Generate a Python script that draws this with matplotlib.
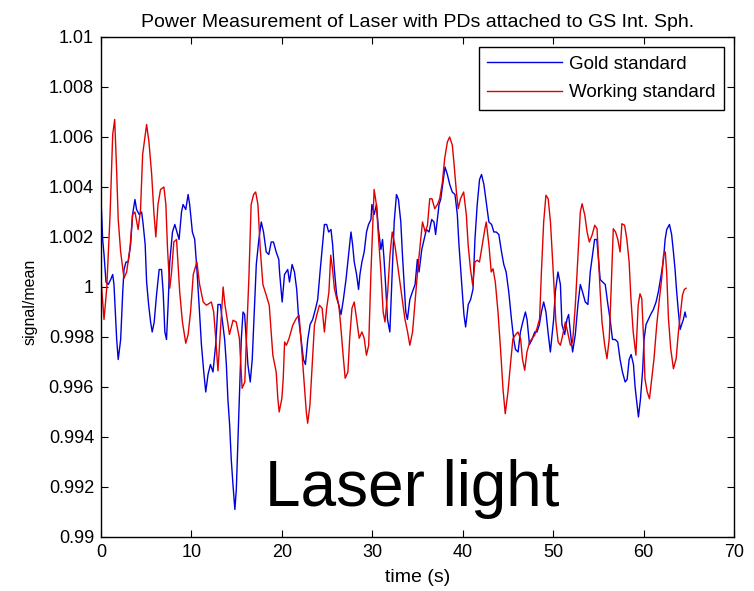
import matplotlib
matplotlib.use('Agg')
import matplotlib.pyplot as plt

plt.rcParams['font.family'] = ['Liberation Sans', 'DejaVu Sans']

# values
gold_t = [0.0, 0.18, 0.33, 0.55, 0.8, 1.07, 1.29, 1.43, 1.58, 1.73, 1.9, 2.17, 2.4, 2.54, 2.76, 3.0,
          3.27, 3.49, 3.75, 3.93, 4.22, 4.49, 4.66, 4.88, 5.04, 5.26, 5.48, 5.66, 5.88, 6.14, 6.43,
          6.69, 6.87, 7.06, 7.24, 7.42, 7.6, 7.9, 8.16, 8.4, 8.63, 8.9, 9.07, 9.37, 9.63, 9.8, 10.1,
          10.36, 10.6, 10.84, 11.1, 11.36, 11.58, 11.83, 12.1, 12.38, 12.68, 12.93, 13.2, 13.4,
          13.67, 13.86, 14.03, 14.22, 14.4, 14.59, 14.8, 14.96, 15.14, 15.33, 15.51, 15.7, 15.88,
          16.06, 16.24, 16.5, 16.72, 16.98, 17.17, 17.45, 17.72, 17.97, 18.27, 18.55, 18.82, 19.07,
          19.37, 19.66, 19.74, 20.03, 20.29, 20.47, 20.65, 20.84, 21.13, 21.39, 21.64, 21.86, 22.13,
          22.38, 22.6, 22.86, 23.12, 23.4, 23.7, 23.96, 24.22, 24.5, 24.7, 24.95, 25.17, 25.43,
          25.61, 25.8, 26.05, 26.27, 26.54, 26.8, 27.09, 27.38, 27.64, 27.82, 28.0, 28.26, 28.48,
          28.63, 28.85, 29.1, 29.36, 29.58, 29.85, 29.95, 30.2, 30.46, 30.68, 30.95, 31.13, 31.3,
          31.5, 31.68, 31.94, 32.16, 32.42, 32.67, 32.89, 33.15, 33.33, 33.52, 33.7, 33.88, 34.15,
          34.43, 34.73, 34.98, 35.17, 35.47, 35.72, 35.98, 36.27, 36.57, 36.82, 37.0, 37.19, 37.38,
          37.56, 37.82, 38.04, 38.3, 38.56, 38.84, 39.14, 39.4, 39.58, 39.77, 39.95, 40.13, 40.32,
          40.61, 40.87, 41.13, 41.35, 41.6, 41.86, 42.08, 42.34, 42.6, 42.89, 43.19, 43.44, 43.7,
          43.99, 44.29, 44.54, 44.8, 45.09, 45.39, 45.64, 45.83, 46.12, 46.38, 46.64, 46.93, 47.11,
          47.38, 47.66, 47.96, 48.21, 48.48, 48.7, 48.95, 49.2, 49.43, 49.69, 50.05, 50.24, 50.53,
          50.8, 50.97, 51.27, 51.52, 51.71, 51.9, 52.15, 52.45, 52.74, 53.0, 53.25, 53.55, 53.84,
          54.1, 54.36, 54.58, 54.83, 55.02, 55.2, 55.46, 55.76, 56.05, 56.3, 56.56, 56.86, 57.14,
          57.4, 57.66, 57.96, 58.18, 58.4, 58.62, 58.88, 59.06, 59.24, 59.43, 59.65, 59.9, 60.05,
          60.27, 60.53, 60.78, 61.08, 61.38, 61.63, 61.82, 62.0, 62.2, 62.38, 62.56, 62.86, 63.1,
          63.3, 63.48, 63.66, 63.85, 64.04, 64.21, 64.4, 64.58, 64.7]
gold_v = [1.0035, 1.0019, 1.0013, 1.0002, 1.0001, 1.0003, 1.0005, 1.0001, 0.9990, 0.9979, 0.9971,
          0.9979, 0.9998, 1.0007, 1.0010, 1.0010, 1.0017, 1.0029, 1.0035, 1.0031, 1.0029, 1.0030,
          1.0025, 1.0017, 1.0002, 0.9993, 0.9986, 0.9982, 0.9986, 0.9997, 1.0007, 1.0007, 0.9998,
          0.9982, 0.9979, 0.9993, 1.0010, 1.0022, 1.0025, 1.0022, 1.0019, 1.0030, 1.0033, 1.0031,
          1.0037, 1.0033, 1.0022, 1.0019, 1.0007, 0.9993, 0.9977, 0.9966, 0.9958, 0.9965, 0.9969,
          0.9966, 0.9977, 0.9993, 0.9993, 0.9987, 0.9979, 0.9969, 0.9955, 0.9945, 0.9931, 0.9921,
          0.9911, 0.9919, 0.9939, 0.9959, 0.9979, 0.9990, 0.9989, 0.9979, 0.9969, 0.9962, 0.9971,
          0.9993, 1.0009, 1.0019, 1.0026, 1.0022, 1.0014, 1.0013, 1.0018, 1.0018, 1.0014, 1.0011,
          1.0006, 0.9994, 1.0005, 1.0006, 1.0007, 1.0002, 1.0009, 1.0006, 0.9999, 0.9987, 0.9979,
          0.9971, 0.9969, 0.9979, 0.9985, 0.9987, 0.9991, 0.9995, 1.0006, 1.0017, 1.0025, 1.0025,
          1.0022, 1.0023, 1.0017, 1.0007, 0.9997, 0.9993, 0.9989, 0.9995, 1.0003, 1.0013, 1.0022,
          1.0017, 1.0010, 1.0005, 0.9999, 1.0005, 1.0010, 1.0014, 1.0022, 1.0025, 1.0027, 1.0033,
          1.0029, 1.0033, 1.0023, 1.0015, 1.0019, 1.0011, 0.9999, 0.9987, 0.9982, 1.0002, 1.0026,
          1.0037, 1.0035, 1.0026, 1.0013, 1.0001, 0.9990, 0.9987, 0.9995, 0.9998, 1.0001, 1.0011,
          1.0006, 1.0015, 1.0019, 1.0023, 1.0022, 1.0027, 1.0026, 1.0021, 1.0027, 1.0033, 1.0035,
          1.0042, 1.0048, 1.0045, 1.0041, 1.0038, 1.0037, 1.0029, 1.0017, 1.0007, 0.9998, 0.9989,
          0.9984, 0.9993, 0.9995, 0.9999, 1.0019, 1.0033, 1.0043, 1.0045, 1.0041, 1.0034, 1.0026,
          1.0025, 1.0022, 1.0022, 1.0021, 1.0014, 1.0009, 1.0006, 0.9998, 0.9987, 0.9979, 0.9975,
          0.9974, 0.9982, 0.9986, 0.9990, 0.9987, 0.9977, 0.9979, 0.9982, 0.9982, 0.9985, 0.9990,
          0.9994, 0.9990, 0.9982, 0.9974, 0.9987, 0.9998, 1.0006, 1.0001, 0.9985, 0.9981, 0.9987,
          0.9989, 0.9982, 0.9974, 0.9981, 0.9993, 1.0001, 0.9998, 0.9994, 0.9993, 1.0006, 1.0013,
          1.0019, 1.0019, 1.0011, 1.0003, 1.0002, 1.0001, 0.9993, 0.9987, 0.9979, 0.9979, 0.9978,
          0.9971, 0.9966, 0.9962, 0.9963, 0.9971, 0.9973, 0.9969, 0.9960, 0.9954, 0.9948, 0.9955,
          0.9967, 0.9979, 0.9985, 0.9987, 0.9989, 0.9991, 0.9994, 0.9998, 1.0002, 1.0006, 1.0011,
          1.0019, 1.0023, 1.0025, 1.0021, 1.0014, 1.0007, 0.9998, 0.9990, 0.9983, 0.9985, 0.9987,
          0.9990, 0.9988]

work_t = [0.0, 0.33, 0.63, 1.0, 1.29, 1.51, 1.73, 1.9, 2.17, 2.54, 2.83, 3.2, 3.49, 3.75, 4.1, 4.37,
          4.6, 5.04, 5.3, 5.6, 5.84, 6.06, 6.3, 6.58, 6.95, 7.17, 7.35, 7.6, 7.8, 8.05, 8.35, 8.7,
          9.0, 9.37, 9.63, 9.9, 10.2, 10.6, 10.9, 11.3, 11.65, 12.2, 12.46, 12.68, 12.93, 13.5,
          13.7, 14.0, 14.2, 14.6, 14.95, 15.3, 15.6, 15.9, 16.05, 16.35, 16.6, 16.87, 17.1, 17.35,
          17.6, 17.9, 18.27, 18.6, 19.0, 19.37, 19.55, 19.7, 20.0, 20.15, 20.3, 20.5, 20.8, 21.2,
          21.6, 21.9, 22.1, 22.4, 22.7, 22.85, 23.1, 23.35, 23.6, 23.85, 24.15, 24.45, 24.7, 24.95,
          25.2, 25.4, 25.6, 25.8, 26.05, 26.3, 26.5, 26.8, 27.0, 27.3, 27.5, 27.75, 28.0, 28.25,
          28.55, 28.85, 29.1, 29.35, 29.6, 29.85, 30.2, 30.45, 30.7, 30.95, 31.2, 31.4, 31.7, 31.95,
          32.2, 32.5, 32.8, 33.05, 33.3, 33.6, 33.9, 34.15, 34.45, 34.7, 35.0, 35.25, 35.55, 35.85,
          36.1, 36.35, 36.6, 36.9, 37.2, 37.45, 37.75, 38.0, 38.3, 38.55, 38.85, 39.05, 39.3, 39.5,
          39.75, 40.1, 40.4, 40.6, 40.85, 41.1, 41.35, 41.6, 41.85, 42.15, 42.45, 42.6, 42.9, 43.15,
          43.35, 43.6, 43.9, 44.2, 44.45, 44.7, 45.0, 45.3, 45.55, 45.8, 46.1, 46.4, 46.6, 46.85,
          47.1, 47.4, 47.65, 47.95, 48.2, 48.5, 48.7, 48.95, 49.2, 49.45, 49.7, 50.05, 50.3, 50.55,
          50.8, 51.05, 51.35, 51.6, 51.9, 52.15, 52.45, 52.75, 53.0, 53.2, 53.5, 53.75, 54.0, 54.3,
          54.6, 54.85, 55.0, 55.2, 55.4, 55.7, 55.95, 56.2, 56.4, 56.65, 56.9, 57.15, 57.4, 57.6,
          57.9, 58.15, 58.4, 58.6, 58.85, 59.15, 59.4, 59.6, 59.8, 60.0, 60.15, 60.4, 60.65, 60.9,
          61.15, 61.45, 61.75, 62.0, 62.2, 62.4, 62.55, 62.75, 63.0, 63.3, 63.6, 63.85, 64.1, 64.3,
          64.5, 64.7]
work_v = [1.0003, 0.9987, 0.99995, 1.0029, 1.0061, 1.0067, 1.0046, 1.0027, 1.0014, 1.00035, 1.0006,
          1.00155, 1.0029, 1.0030, 1.0023, 1.0031, 1.0053, 1.0065, 1.0058, 1.0045, 1.0030, 1.0020,
          1.0033, 1.0039, 1.0040, 1.0033, 1.00155, 0.99995, 1.0006, 1.0018, 1.0019, 0.9998, 0.9986,
          0.99775, 0.9981, 0.9990, 1.0005, 1.0010, 1.0001, 0.9994, 0.99927, 0.9994, 0.9990,
          0.99795, 0.99665, 1.0000, 0.9993, 0.9986, 0.9981, 0.99867, 0.9986, 0.99795, 0.99595,
          0.9962, 0.99767, 1.00035, 1.0033, 1.0037, 1.0038, 1.0033, 1.00155, 1.0001, 0.99967,
          0.99927, 0.99727, 0.9966, 0.99555, 0.9950, 0.99555, 0.99635, 0.9978, 0.99767, 0.99795,
          0.99847, 0.99875, 0.99887, 0.99795, 0.99647, 0.9950, 0.99455, 0.99527, 0.99687, 0.99847,
          0.99887, 0.99927, 0.99915, 0.9982, 0.99915, 0.9998, 1.00127, 1.00073, 0.99995, 0.99955,
          0.99927, 0.99847, 0.99715, 0.99635, 0.9966, 0.99795, 0.99915, 0.9994, 0.99875, 0.99795,
          0.9982, 0.99795, 0.99727, 0.99767, 1.0006, 1.0039, 1.0033, 1.0019, 1.0006, 0.9990,
          0.9986, 0.9998, 1.00127, 1.0022, 1.00167, 1.00087, 1.0002, 0.99953, 0.99873, 0.9982,
          0.99767, 0.9982, 0.99927, 1.0006, 1.00153, 1.0026, 1.0022, 1.00247, 1.00353, 1.00353,
          1.00313, 1.0033, 1.00353, 1.0042, 1.00513, 1.0058, 1.0060, 1.00567, 1.00487, 1.0038,
          1.00313, 1.00353, 1.0038, 1.00287, 1.00167, 1.00073, 1.00007, 1.0010, 1.00107, 1.0010,
          1.00167, 1.00233, 1.0026, 1.00167, 1.0006, 1.00073, 1.0002, 0.9990, 0.9974, 0.99593,
          0.99493, 0.9958, 0.9970, 0.99793, 0.99807, 0.9982, 0.99793, 0.99713, 0.99667, 0.9974,
          0.9978, 0.99793, 0.99807, 0.99833, 0.99873, 1.0006, 1.0026, 1.00367, 1.00353, 1.0026,
          1.00033, 0.9986, 0.9978, 0.99767, 0.99807, 0.9986, 0.9982, 0.99767, 0.9978, 0.99927,
          1.00127, 1.0030, 1.00333, 1.00287, 1.0022, 1.0018, 1.00207, 1.00247, 1.00233, 1.00127,
          0.9998, 0.9986, 0.99767, 0.99713, 0.99793, 0.9998, 1.00233, 1.0022, 1.0019, 1.0014,
          1.00253, 1.00247, 1.0019, 1.0010, 0.99953, 0.9982, 0.99727, 0.99927, 0.99973, 0.99953,
          0.99793, 0.99633, 0.9958, 0.99553, 0.99633, 0.99713, 0.99847, 0.99953, 1.00033, 1.00127,
          1.0014, 1.0006, 0.99873, 0.99753, 0.99673, 0.99713, 0.9982, 0.9990, 0.99967, 0.9999,
          0.99995]

x_ticks = [0, 10, 20, 30, 40, 50, 60, 70]
y_ticks = [0.99, 0.992, 0.994, 0.996, 0.998, 1.0, 1.002, 1.004, 1.006, 1.008, 1.01]
y_tick_labels = ['0.99', '0.992', '0.994', '0.996', '0.998', '1',
                 '1.002', '1.004', '1.006', '1.008', '1.01']

fig = plt.figure(figsize=(7.54, 5.91), dpi=100)
ax = fig.add_axes([0.134, 0.0914, 0.8395, 0.846])

ax.plot(gold_t, gold_v, color='#0000dd', lw=1.0, label='Gold standard')
ax.plot(work_t, work_v, color='#e00000', lw=1.0, label='Working standard')

ax.set_xlim(0, 70)
ax.set_ylim(0.99, 1.01)
ax.set_xticks(x_ticks)
ax.set_yticks(y_ticks)
ax.set_yticklabels(y_tick_labels)
ax.tick_params(direction='in', length=5, top=True, right=True, labelsize=13, pad=5)
for s in ax.spines.values():
    s.set_linewidth(1.0)

ax.set_title('Power Measurement of Laser with PDs attached to GS Int. Sph.', fontsize=14, pad=7)
ax.set_xlabel('time (s)', fontsize=14, labelpad=6)
ax.set_ylabel('signal/mean', fontsize=11.5)
ax.yaxis.set_label_coords(-0.1, 0.47)

leg = ax.legend(loc='upper right', fontsize=13.5, handlelength=4.0, fancybox=False,
                edgecolor='black', framealpha=1, borderaxespad=0.55, labelspacing=0.6,
                borderpad=0.45, handletextpad=0.35)
leg.get_frame().set_linewidth(1.0)

ax.text(0.259, 0.062, 'Laser light', transform=ax.transAxes, fontsize=46,
        va='baseline', ha='left', color='black')

fig.savefig('out.png', dpi=100)
